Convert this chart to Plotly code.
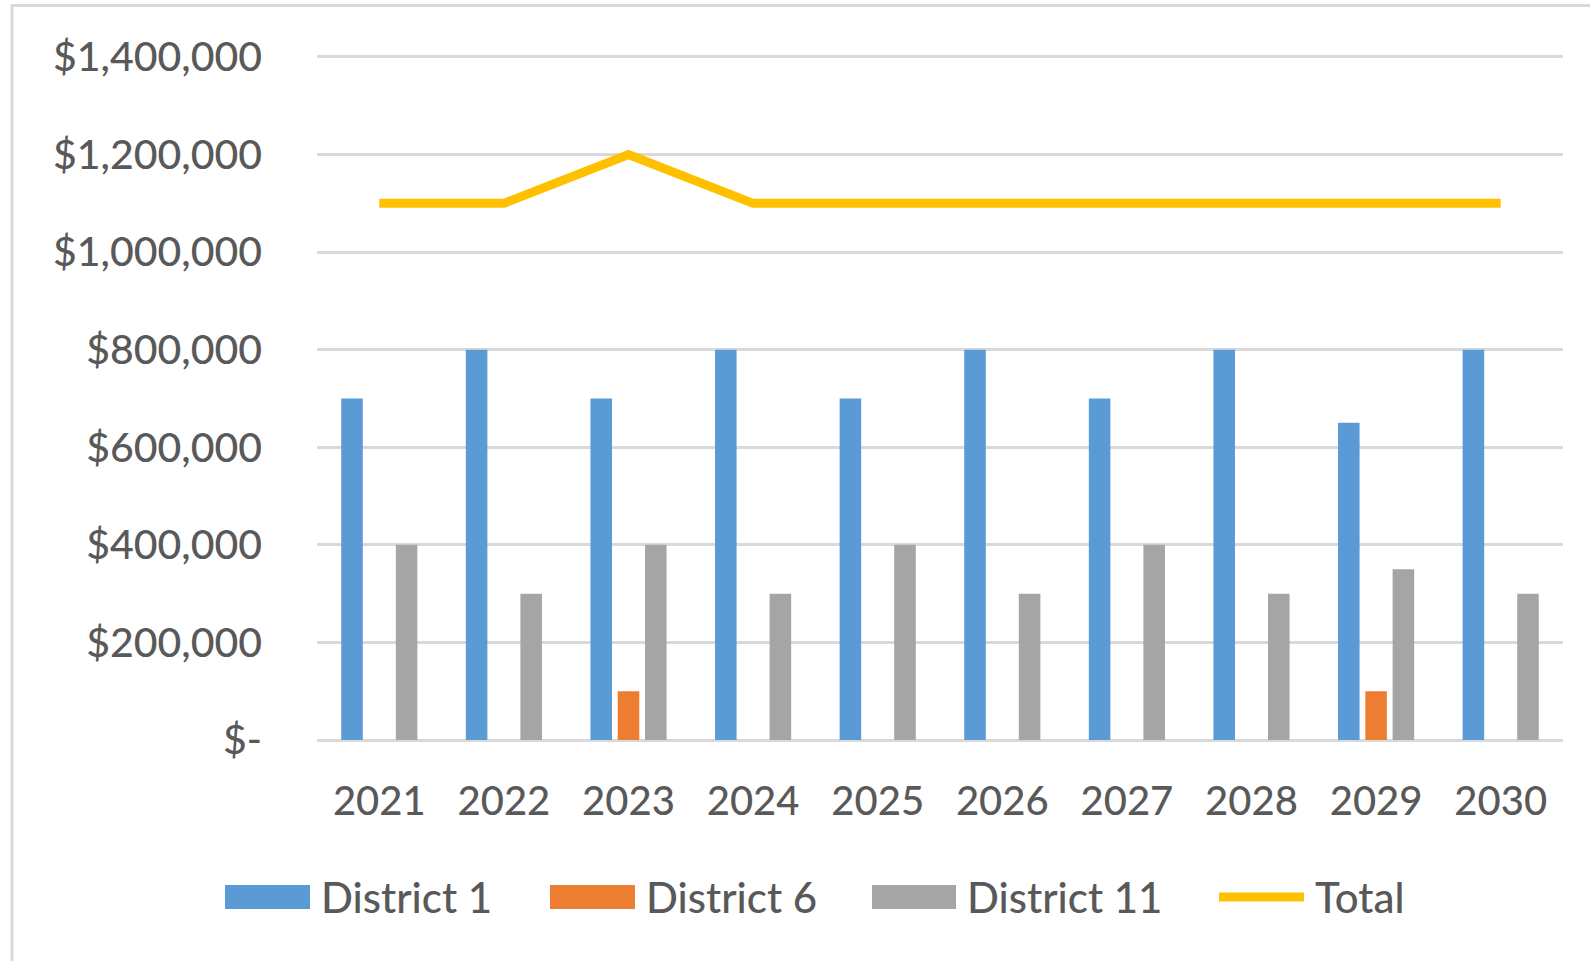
import plotly.graph_objects as go

years = ["2021", "2022", "2023", "2024", "2025", "2026", "2027", "2028", "2029", "2030"]
district_1 = [700000, 800000, 700000, 800000, 700000, 800000, 700000, 800000, 650000, 800000]
district_6 = [0, 0, 100000, 0, 0, 0, 0, 0, 100000, 0]
district_11 = [400000, 300000, 400000, 300000, 400000, 300000, 400000, 300000, 350000, 300000]
total = [1100000, 1100000, 1200000, 1100000, 1100000, 1100000, 1100000, 1100000, 1100000, 1100000]
y_ticks = [0, 200000, 400000, 600000, 800000, 1000000, 1200000, 1400000]
y_tick_labels = ["$-", "$200,000", "$400,000", "$600,000", "$800,000",
                 "$1,000,000", "$1,200,000", "$1,400,000"]

C_BLUE, C_ORANGE, C_GRAY, C_GOLD = "#5B9BD5", "#ED7D31", "#A5A5A5", "#FFC000"
TEXT = "#595959"
FONT = "Lato"
WEIGHT = 500

W, H = 1590, 961
YMAX = 1404000
L, R = 317, 1563
B = 740
T = B - (740 - 57) * YMAX / 1400000


def px(x):
    return (x - L) / (R - L)


def py(y):
    return (B - y) / (B - T)


fig = go.Figure()
for name, vals, col in [("District 1", district_1, C_BLUE),
                        ("District 6", district_6, C_ORANGE),
                        ("District 11", district_11, C_GRAY)]:
    fig.add_trace(go.Bar(x=years, y=vals, name=name, marker=dict(color=col, line=dict(width=0)),
                         showlegend=False))
fig.add_trace(go.Scatter(x=years, y=total, name="Total", mode="lines",
                         line=dict(color=C_GOLD, width=9), showlegend=False))

shapes = []
annotations = []
# chart border
shapes.append(dict(type="rect", xref="paper", yref="paper", x0=px(12), x1=px(1610),
                   y0=py(980), y1=py(5.5), line=dict(color="#D9D9D9", width=3), layer="below"))

# custom legend
legend_items = [("District 1", "bar", C_BLUE, 225, 310, 319),
                ("District 6", "bar", C_ORANGE, 550, 635, 644),
                ("District 11", "bar", C_GRAY, 872, 956, 965),
                ("Total", "line", C_GOLD, 1219, 1304, 1313)]
ly = 897
for name, kind, col, x0, x1, tx in legend_items:
    if kind == "bar":
        shapes.append(dict(type="rect", xref="paper", yref="paper", x0=px(x0), x1=px(x1),
                           y0=py(ly + 12), y1=py(ly - 12), fillcolor=col, line=dict(width=0)))
    else:
        shapes.append(dict(type="line", xref="paper", yref="paper", x0=px(x0), x1=px(x1),
                           y0=py(ly), y1=py(ly), line=dict(color=col, width=9)))
    annotations.append(dict(text=name, xref="paper", yref="paper", x=px(tx), y=py(ly),
                            xanchor="left", yanchor="middle", showarrow=False,
                            font=dict(family=FONT, size=42, color=TEXT, weight=WEIGHT)))

fig.update_layout(
    width=W, height=H,
    margin=dict(l=L, r=W - R, t=T, b=H - B),
    paper_bgcolor="white", plot_bgcolor="white",
    barmode="group", bargap=0.343, bargroupgap=0.21,
    shapes=shapes, annotations=annotations,
    font=dict(family=FONT, size=40, color=TEXT, weight=WEIGHT),
    showlegend=False,
)
fig.update_yaxes(range=[0, YMAX], tickvals=y_ticks, ticktext=y_tick_labels,
                 showgrid=True, gridcolor="#D9D9D9", gridwidth=2.5,
                 zeroline=True, zerolinecolor="#D9D9D9", zerolinewidth=2.5,
                 showline=False, ticks="", ticklabelstandoff=54,
                 tickfont=dict(family=FONT, size=41, color=TEXT, weight=WEIGHT))
fig.update_xaxes(showgrid=False, showline=False, ticks="", ticklabelstandoff=34,
                 tickfont=dict(family=FONT, size=40, color=TEXT, weight=WEIGHT))

fig.write_html("out.html", config={"displayModeBar": False},
               post_script="document.body.style.margin='0px';")
